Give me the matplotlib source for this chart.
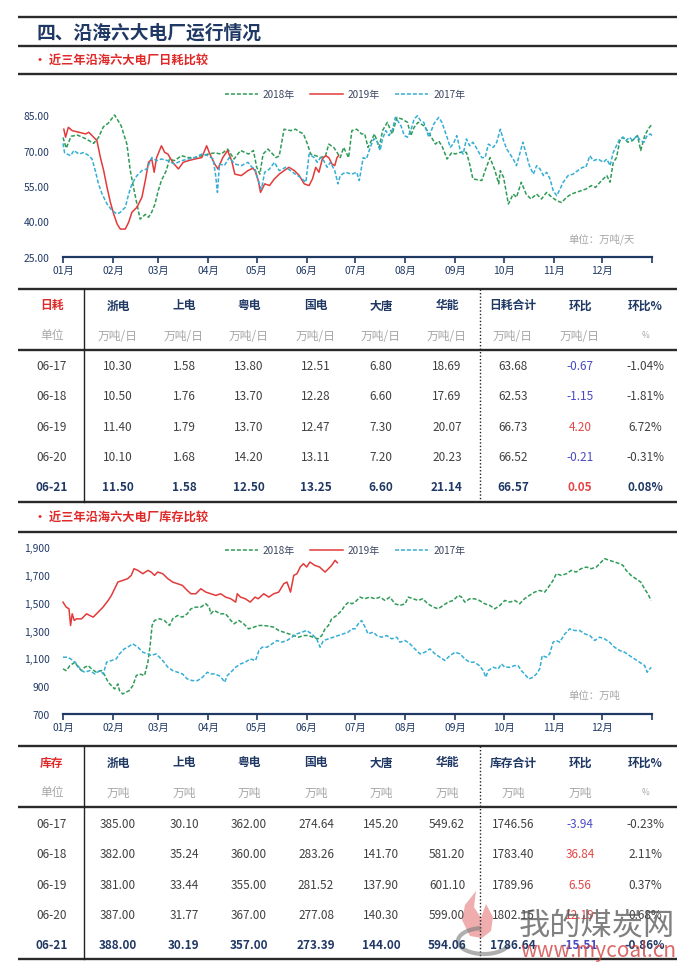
import matplotlib
matplotlib.use("Agg")
import numpy as np
import matplotlib.pyplot as plt
from matplotlib.lines import Line2D
from matplotlib.patches import Polygon

plt.rcParams['font.family'] = ['Noto Sans CJK SC', 'DejaVu Sans']

# ---------------- data ----------------
months = ['01月', '02月', '03月', '04月', '05月', '06月', '07月', '08月', '09月', '10月', '11月', '12月']
month_start = [0, 31, 59, 90, 120, 151, 181, 212, 243, 273, 304, 334, 365]

# daily coal use, (day of year, 万吨/天)
use18 = [(0, 75.5), (2, 71.0), (5, 76.0), (9, 76.5), (14, 75.0), (19, 73.0), (22, 75.5), (25, 80.0),
         (28, 81.5), (32, 85.0), (36, 80.5), (39.6, 72.7), (41.7, 61.5), (43.7, 54.4), (45.8, 47.4),
         (47.8, 41.0), (51, 43.0), (53, 41.8), (55, 44.0), (57, 47.4), (59, 53.0), (61, 57.3), (64, 61.5),
         (66, 66.4), (69, 65.7), (73.5, 67.8), (77.6, 67.0), (82, 67.0), (86, 67.8), (90, 68.5), (94, 69.0),
         (98, 68.5), (102, 70.6), (106, 66.4), (110, 70.0), (115, 68.5), (118, 70.0), (120, 63.0),
         (122, 60.0), (124, 68.5), (127, 70.6), (129, 69.2), (132, 67.0), (134, 67.7), (137, 79.0),
         (141, 78.4), (144, 79.0), (147, 77.7), (149, 77.0), (151.5, 72.7), (153.5, 68.5), (156.6, 67.8),
         (159.6, 67.0), (162.7, 67.8), (164.7, 72.7), (167.8, 71.3), (169.8, 69.2), (171.8, 67.0),
         (173.9, 71.3), (177, 67.0), (179, 78.4), (182, 79.0), (185, 77.0), (187, 77.0), (189, 71.3),
         (191, 74.0), (193, 77.0), (196, 71.3), (198, 78.4), (201, 81.9), (204, 77.0), (207, 84.0),
         (210, 83.3), (213.5, 81.9), (215.5, 76.3), (217.6, 79.8), (220, 81.9), (223.6, 80.5), (227.7, 76.3),
         (230.8, 72.7), (232.8, 74.0), (234.8, 72.0), (238, 66.4), (241, 69.2), (243, 68.5), (246, 69.2),
         (250, 69.2), (252, 64.3), (254, 58.0), (259.5, 57.3), (261.6, 61.5), (264.6, 67.0), (267.7, 61.5),
         (270, 55.9), (271, 61.5), (273, 58.7), (276, 47.4), (279, 51.6), (281, 50.2), (284, 56.6),
         (287, 51.6), (290, 49.5), (293.5, 51.6), (296.5, 49.5), (299.7, 52.3), (303, 50.2), (306, 48.8),
         (309, 48.0), (312, 50.2), (315, 51.6), (318, 52.3), (321, 53.0), (324, 53.7), (327.5, 55.2),
         (330, 54.4), (333.7, 57.3), (337, 59.4), (339, 56.6), (341, 65.0), (343, 67.0), (345, 74.0),
         (347, 75.6), (350, 73.5), (353, 74.2), (356, 76.3), (358, 70.0), (360.5, 76.3), (362.6, 79.0),
         (365, 81.2)]

use19 = [(0.5, 79.0), (1.6, 75.6), (3.3, 79.8), (5.7, 78.4), (9.9, 77.7), (14, 77.0), (16, 77.7), (19, 75.6),
         (21, 74.2), (23.2, 67.0), (25.2, 61.5), (27.3, 54.4), (29.4, 48.0), (31.4, 43.2), (33.5, 39.0),
         (35.5, 36.8), (38.6, 36.8), (40.7, 39.7), (42.7, 43.9), (45.8, 46.0), (48.9, 50.2), (51, 57.3),
         (53, 65.0), (55, 66.4), (56.5, 60.8), (58, 67.0), (61, 72.0), (63, 69.2), (65, 68.5), (68, 65.0),
         (71.5, 62.2), (74.5, 65.0), (77.6, 65.7), (81.7, 66.4), (86, 67.0), (89, 72.0), (91, 68.5),
         (94, 64.3), (96, 62.2), (99, 67.0), (102, 70.0), (104.5, 65.7), (106.5, 60.0), (110.5, 59.4),
         (114.6, 61.5), (117.6, 62.5), (119, 61.5), (121, 57.3), (122.4, 52.3), (125, 55.9), (128, 55.2),
         (131, 58.0), (134, 60.0), (137, 61.5), (140, 62.9), (143.4, 61.5), (146.4, 59.4), (149.5, 55.9),
         (152.5, 55.2), (154.6, 58.0), (156.6, 62.9), (158.6, 60.8), (160.7, 66.4), (162.7, 67.8),
         (164.7, 67.0), (166.7, 64.3), (168.4, 63.6), (169.8, 67.0), (170.8, 67.8)]

use17 = [(0, 73.0), (1, 69.0), (2.5, 68.5), (4.7, 67.8), (6.8, 70.0), (9.9, 68.5), (13, 69.2), (16, 67.8),
         (18, 66.4), (20, 61.5), (22, 55.9), (24.2, 51.6), (27.3, 47.4), (30.4, 44.6), (33.5, 43.2),
         (35.5, 43.9), (38.6, 46.0), (40.7, 51.6), (42.7, 55.9), (45.8, 59.4), (48.9, 61.5), (52, 62.2),
         (55, 67.0), (58, 65.7), (61, 66.4), (65, 65.7), (69, 64.3), (73.5, 65.7), (77.6, 66.4), (81.7, 67.0),
         (86, 68.5), (90, 67.8), (93, 66.4), (94.5, 60.0), (95.7, 52.3), (97, 64.3), (100, 63.6), (103, 67.0),
         (106.5, 64.3), (110.5, 63.6), (114.6, 65.0), (117, 63.0), (119, 62.2), (121, 57.3), (123, 53.7),
         (125, 60.8), (128, 62.2), (131, 65.0), (134, 61.5), (138, 62.9), (141, 61.5), (144, 60.0),
         (147, 58.7), (150.5, 56.6), (152.5, 68.5), (155.6, 67.0), (157.6, 65.0), (159.6, 67.0),
         (161.6, 65.7), (163.7, 62.9), (165.7, 65.0), (168.4, 61.5), (170.4, 55.9), (171.8, 59.4),
         (174.9, 60.8), (179, 60.0), (182, 60.8), (183.6, 57.3), (186, 67.0), (188, 66.4), (190.4, 71.3),
         (192.5, 74.9), (194.5, 74.2), (196.5, 70.0), (198, 74.9), (200, 78.4), (202, 76.3), (204, 78.4),
         (206, 84.0), (209.4, 80.5), (211.5, 76.3), (213.5, 75.6), (215.5, 78.4), (217.6, 83.3),
         (219.6, 84.7), (221.6, 82.6), (223.6, 81.9), (226.7, 75.6), (229.8, 81.2), (232.8, 84.0),
         (234.8, 81.9), (238, 75.6), (240, 71.3), (242, 73.0), (244, 76.3), (246, 70.6), (248, 68.5),
         (250, 74.9), (252, 72.0), (254, 73.5), (256, 71.3), (259.5, 67.0), (261.6, 67.0), (263.6, 72.7),
         (266.7, 71.3), (268.8, 73.5), (271, 79.0), (273, 74.2), (275, 70.6), (277, 68.5), (279, 66.4),
         (281, 63.6), (283, 68.5), (285, 73.5), (287, 68.5), (289, 63.6), (291.5, 60.0), (293.5, 63.6),
         (295.6, 62.2), (297.7, 59.4), (299.7, 60.8), (301.8, 58.0), (303.8, 53.0), (306, 50.9), (308, 53.7),
         (310, 56.6), (313, 59.4), (316, 60.0), (319, 61.5), (322, 62.9), (324, 62.9), (326.5, 67.8),
         (328.6, 65.7), (331.7, 66.4), (334.8, 65.0), (337, 66.4), (339, 63.6), (341, 69.2), (343, 72.0),
         (345, 74.9), (347, 75.6), (349, 74.2), (351, 75.6), (353, 74.2), (355.7, 76.3), (357.8, 74.2),
         (360, 73.5), (362, 76.3), (364, 77.0), (365, 76.3)]

# coal stock, (day of year, 万吨)
stock18 = [(0, 1024), (2, 1012), (4.3, 1048), (7.4, 1072), (9.4, 1036), (11.5, 1012), (13.5, 1036),
           (15.6, 1048), (17.7, 1024), (20.7, 1000), (23.8, 1012), (26, 976), (28, 928), (30, 904), (32, 880),
           (34, 916), (35, 868), (37, 844), (39, 856), (41, 868), (43.3, 904), (45.4, 976), (47.4, 988),
           (50.5, 976), (52.6, 1072), (54, 1192), (55.2, 1336), (56.7, 1372), (59.8, 1384), (62.8, 1372),
           (66, 1336), (68, 1384), (71, 1408), (74, 1396), (77, 1420), (79.3, 1456), (82.3, 1468), (85.4, 1468),
           (88.5, 1492), (90.6, 1468), (91.6, 1420), (93.6, 1444), (97.7, 1420), (100.8, 1420), (104, 1372),
           (106, 1348), (109, 1372), (112, 1348), (115, 1312), (118.3, 1324), (121, 1336), (124.4, 1336),
           (127.5, 1331), (130.6, 1324), (133.7, 1300), (136.8, 1288), (140, 1276), (143, 1264), (146, 1252),
           (149, 1264), (152, 1264), (155, 1252), (158, 1240), (160.4, 1264), (162.4, 1312), (164.5, 1336),
           (166.5, 1384), (169.6, 1408), (172.7, 1444), (174.7, 1480), (177, 1504), (179, 1492), (181, 1504),
           (184, 1540), (187, 1528), (190, 1540), (193.4, 1528), (196.5, 1540), (199.5, 1516), (202.6, 1540),
           (205.7, 1492), (208.8, 1480), (212, 1492), (214, 1540), (217, 1528), (220, 1516), (223, 1528),
           (226, 1492), (229.5, 1468), (232.5, 1456), (235.6, 1480), (238.7, 1504), (241.8, 1516), (245, 1552),
           (247, 1540), (249, 1504), (252, 1528), (255, 1528), (258, 1516), (261.4, 1492), (264.5, 1480),
           (267.6, 1456), (270.7, 1480), (273.8, 1516), (277, 1504), (280, 1516), (283, 1492), (286, 1528),
           (289, 1552), (292.3, 1576), (295.4, 1588), (298.5, 1576), (301.6, 1624), (303.7, 1660),
           (305.7, 1708), (308.8, 1696), (312, 1708), (315, 1732), (318, 1720), (321, 1744), (324.3, 1756),
           (327.4, 1744), (330.5, 1756), (333.6, 1792), (335.6, 1816), (338.7, 1804), (341.8, 1792),
           (345, 1780), (347, 1768), (349, 1732), (352, 1696), (355, 1672), (358, 1648), (360.4, 1600),
           (362.4, 1564), (364.5, 1516)]

stock19 = [(0, 1504), (2, 1468), (3.7, 1456), (4.7, 1336), (5.7, 1420), (7, 1372), (8.4, 1384), (11.5, 1384),
           (14.6, 1420), (16.6, 1408), (18.7, 1396), (21.8, 1432), (24.8, 1468), (28, 1516), (30, 1552),
           (32, 1600), (34, 1648), (37, 1660), (40, 1672), (42.3, 1696), (44, 1744), (46.4, 1732), (49.5, 1708),
           (52.6, 1732), (54.6, 1720), (56.7, 1696), (58.7, 1720), (61.8, 1708), (65, 1672), (68, 1648),
           (71, 1636), (74, 1624), (77, 1588), (79.3, 1564), (82.3, 1564), (85.4, 1600), (88.5, 1576),
           (91.6, 1564), (94.7, 1552), (97.7, 1564), (100.8, 1540), (104, 1528), (107, 1504), (108, 1564),
           (110, 1540), (113, 1528), (116, 1504), (119, 1540), (121, 1528), (124.4, 1564), (127.5, 1540),
           (130.6, 1564), (133.7, 1576), (136.8, 1636), (138.8, 1648), (141, 1576), (143, 1696), (145, 1708),
           (147, 1756), (149, 1780), (151, 1756), (153, 1792), (156, 1768), (159, 1756), (162.4, 1720),
           (164.5, 1744), (166.5, 1768), (168.6, 1804), (170, 1787)]

stock17 = [(0, 1108), (3, 1108), (6.4, 1084), (8.4, 1060), (11.5, 1012), (13.5, 1000), (16.6, 1012),
           (19.7, 988), (22.8, 1012), (25, 988), (27, 1072), (30, 1084), (33, 1096), (35, 1132), (38, 1168),
           (40, 1180), (43.3, 1204), (46.4, 1180), (49.5, 1144), (52.6, 1132), (54.6, 1120), (57.7, 1132),
           (59.8, 1108), (61.8, 1084), (65, 1036), (68, 1012), (71, 1000), (74, 988), (77, 952), (80, 940),
           (83.4, 940), (86.4, 964), (89.5, 1000), (91.6, 988), (93.6, 988), (96.7, 976), (98.8, 952),
           (100.2, 928), (101.8, 976), (104, 1000), (107, 1036), (110, 1060), (113, 1072), (116, 1096),
           (119.3, 1084), (121.4, 1156), (123.4, 1180), (126.5, 1180), (129.6, 1204), (132.6, 1228),
           (135.7, 1216), (138.8, 1228), (141.9, 1252), (145, 1276), (148, 1288), (151, 1300), (154, 1276),
           (157.2, 1240), (159.3, 1180), (161.4, 1228), (164.5, 1240), (167.5, 1252), (170.6, 1264),
           (173.7, 1276), (176.8, 1288), (178.8, 1312), (181, 1312), (183, 1348), (185, 1372), (187.2, 1324),
           (189, 1276), (192.3, 1288), (194.4, 1264), (197.5, 1252), (200.6, 1264), (203.7, 1240),
           (206.8, 1252), (208.8, 1216), (212, 1228), (215, 1204), (218, 1168), (221.2, 1132), (224.3, 1144),
           (227.4, 1168), (230.5, 1132), (233.6, 1108), (236.7, 1084), (239.8, 1120), (243, 1144), (246, 1132),
           (249, 1096), (252, 1072), (255, 1072), (258, 1048), (260.4, 1012), (262, 964), (263.5, 1012),
           (266.6, 1036), (269.7, 1024), (271.7, 1060), (273.8, 1036), (277, 1036), (280, 1048), (282, 1048),
           (284, 1012), (286, 988), (288.6, 952), (291.3, 964), (293.4, 988), (295.4, 1024), (297, 1120),
           (299.5, 1108), (301.6, 1132), (303.7, 1216), (305.7, 1228), (307.8, 1216), (311, 1276), (314, 1312),
           (317, 1300), (320.2, 1300), (323.3, 1276), (326.4, 1264), (329.5, 1228), (332.5, 1252),
           (335.6, 1240), (338.7, 1216), (341.8, 1180), (345, 1156), (348, 1144), (351, 1120), (354.2, 1096),
           (357.3, 1072), (360.4, 1048), (362, 1000), (364.5, 1036)]

plants = ['浙电', '上电', '粤电', '国电', '大唐', '华能']
dates = ['06-17', '06-18', '06-19', '06-20', '06-21']
# six plants, total, change, change %
use_rows = [[10.30, 1.58, 13.80, 12.51, 6.80, 18.69, 63.68, -0.67, -1.04],
            [10.50, 1.76, 13.70, 12.28, 6.60, 17.69, 62.53, -1.15, -1.81],
            [11.40, 1.79, 13.70, 12.47, 7.30, 20.07, 66.73, 4.20, 6.72],
            [10.10, 1.68, 14.20, 13.11, 7.20, 20.23, 66.52, -0.21, -0.31],
            [11.50, 1.58, 12.50, 13.25, 6.60, 21.14, 66.57, 0.05, 0.08]]
stock_rows = [[385.00, 30.10, 362.00, 274.64, 145.20, 549.62, 1746.56, -3.94, -0.23],
              [382.00, 35.24, 360.00, 283.26, 141.70, 581.20, 1783.40, 36.84, 2.11],
              [381.00, 33.44, 355.00, 281.52, 137.90, 601.10, 1789.96, 6.56, 0.37],
              [387.00, 31.77, 367.00, 277.08, 140.30, 599.00, 1802.15, 12.19, 0.68],
              [388.00, 30.19, 357.00, 273.39, 144.00, 594.06, 1786.64, -15.51, -0.86]]

# ---------------- style ----------------
NAVY = '#1F3864'
RED = '#E02A2A'
GREEN = '#2F9B57'
LINE_RED = '#E23B3B'
CYAN = '#35AED6'
GREY = '#A6A6A6'
TXT = '#404040'
NEG = '#4A4AC4'
POS = '#E24646'

W, H = 690, 970
fig = plt.figure(figsize=(W / 100, H / 100), dpi=100)


def fx(x):
    return x / W


def fy(y):
    return 1 - y / H


def hline(y, lw=1.7, color='#2A2A2A', x0=18, x1=677):
    fig.add_artist(Line2D([fx(x0), fx(x1)], [fy(y), fy(y)], lw=lw, color=color, solid_capstyle='butt'))


def vline(x, y0, y1, **kw):
    fig.add_artist(Line2D([fx(x), fx(x)], [fy(y0), fy(y1)], **kw))


# header block
hline(18)
fig.text(fx(37), fy(33), '四、沿海六大电厂运行情况', fontsize=13.5, weight='bold', color=NAVY, va='center')
hline(47)
fig.text(fx(34), fy(61), '• 近三年沿海六大电厂日耗比较', fontsize=8.8, weight='bold', color=RED, va='center')
hline(75)


def chart(top, bottom, lo, hi, ticks, labels, s18, s19, s17, unit, unit_y, leg_y):
    ax = fig.add_axes([fx(63), fy(bottom), fx(652) - fx(63), fy(top) - fy(bottom)])
    for pts, color, style, label in [(s18, GREEN, '--', '2018年'), (s19, LINE_RED, '-', '2019年'),
                                     (s17, CYAN, '--', '2017年')]:
        xs = [p[0] for p in pts]
        ys = [p[1] for p in pts]
        ln, = ax.plot(xs, ys, color=color, lw=1.1, ls=style, label=label, clip_on=False)
        if style == '--':
            ln.set_dashes((2.6, 1.3))
    ax.set_xlim(0, 365)
    ax.set_ylim(lo, hi)
    ax.set_xticks(month_start)
    ax.set_xticklabels(months + [''])
    ax.set_yticks(ticks)
    ax.set_yticklabels(labels)
    for s in ['top', 'right', 'left']:
        ax.spines[s].set_visible(False)
    ax.spines['bottom'].set_color(NAVY)
    ax.spines['bottom'].set_linewidth(1.6)
    ax.tick_params(axis='x', length=4, width=1.2, color=NAVY, labelsize=7.4, labelcolor=NAVY, pad=2)
    ax.tick_params(axis='y', length=0, labelsize=7.4, labelcolor=NAVY, pad=9.5)
    ax.set_facecolor('none')
    ax.legend(loc='center', bbox_to_anchor=(fx(345), fy(leg_y)), bbox_transform=fig.transFigure, ncol=3,
              frameon=False, fontsize=7.2, handlelength=3.3, handletextpad=0.5, columnspacing=1.5,
              labelcolor='#3C4660')
    fig.text(fx(568), fy(unit_y), unit, fontsize=7.5, color=GREY, va='center')
    return ax


use_ticks = [25, 40, 55, 70, 85]
chart(116, 258, 25, 85, use_ticks, ['%.2f' % t for t in use_ticks], use18, use19, use17,
      '单位：万吨/天', 239, 95)

stock_ticks = [700, 900, 1100, 1300, 1500, 1700, 1900]
chart(548, 715, 700, 1900, stock_ticks, ['{:,}'.format(t) for t in stock_ticks], stock18, stock19, stock17,
      '单位：万吨', 696, 551)

col_x = [52, 118, 184, 249, 316, 381, 447, 513, 580, 645]


def table(top, head_y, unit_y, sep_y, row_y, bottom, name, unit, total_name, rows):
    hline(top)
    hline(sep_y)
    hline(bottom)
    vline(84, top, bottom, lw=1.0, color='#222222')
    vline(480, top, bottom, lw=1.0, color='#222222', ls=(0, (1, 1.5)))
    heads = [name] + plants + [total_name, '环比', '环比%']
    for i, h in enumerate(heads):
        fig.text(fx(col_x[i]), fy(head_y), h, ha='center', va='center', fontsize=8.5, weight='bold',
                 color=RED if i == 0 else NAVY)
    units = ['单位'] + [unit] * 8 + ['%']
    for i, u in enumerate(units):
        fig.text(fx(col_x[i]), fy(unit_y), u, ha='center', va='center', fontsize=6 if u == '%' else 8.5,
                 color=GREY)
    for r, (d, vals) in enumerate(zip(dates, rows)):
        last = r == len(rows) - 1
        wt = 'bold' if last else 'normal'
        base = NAVY if last else TXT
        y = fy(row_y[r])
        fig.text(fx(col_x[0]), y, d, ha='center', va='center', fontsize=8.5, weight=wt, color=base)
        for i, v in enumerate(vals):
            s = '%.2f%%' % v if i == 8 else '%.2f' % v
            c = base
            if i == 7:
                c = POS if v > 0 else NEG
            fig.text(fx(col_x[i + 1]), y, s, ha='center', va='center', fontsize=8.5, weight=wt, color=c)


table(290, 306, 336, 351, [367, 397, 428, 458, 488], 503, '日耗', '万吨/日', '日耗合计', use_rows)

fig.text(fx(34), fy(518), '• 近三年沿海六大电厂库存比较', fontsize=8.8, weight='bold', color=RED, va='center')
hline(533)

table(747, 763, 793, 808, [825, 855, 886, 916, 946], 960, '库存', '万吨', '库存合计', stock_rows)

# watermark (site logo over the bottom-right corner, as in the source image)
t = np.linspace(np.radians(100), np.radians(340), 60)
arc = np.column_stack([fx(484 + 26 * np.cos(t)), fy(942 - 13 * np.sin(t))])
fig.add_artist(Line2D(arc[:, 0], arc[:, 1], lw=3, color='#7A7A7A', alpha=0.6, solid_capstyle='round'))
flame = [(470, 937), (462, 921), (465, 906), (476, 892), (474, 908), (481, 919), (486, 905), (493, 918),
         (491, 932), (482, 939)]
fig.add_artist(Polygon([(fx(a), fy(b)) for a, b in flame], closed=True, transform=fig.transFigure,
                       facecolor='#E36A6A', edgecolor='none', alpha=0.55))
fig.text(fx(519), fy(925), '我的煤炭网', fontsize=22.5, color='#555555', alpha=0.75, va='center')
fig.text(fx(520), fy(951), 'www.mycoal.cn', fontsize=15, color='#D24444', alpha=0.8, va='center')

fig.savefig('out.png', dpi=100, facecolor='white')
